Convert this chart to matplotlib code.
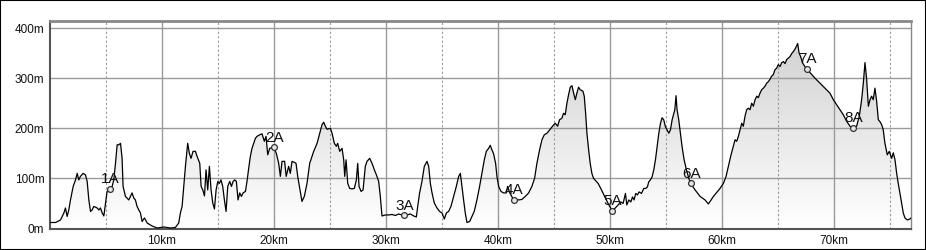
import numpy as np
import matplotlib
matplotlib.use("Agg")
import matplotlib.pyplot as plt
from matplotlib.colors import LinearSegmentedColormap
from matplotlib.patches import Rectangle

plt.rcParams['font.family'] = ['Liberation Sans', 'DejaVu Sans']

# elevation profile (km, m)
dist_km = [0.0, 0.1, 0.5, 0.94, 1.24, 1.38, 1.53, 1.68, 1.83, 2.07, 2.28, 2.43, 2.57, 2.72, 2.96, 3.17,
           3.32, 3.47, 3.62, 3.76, 3.91, 4.21, 4.36, 4.51, 4.66, 4.81, 4.96, 5.1, 5.25, 5.55, 5.7, 5.85,
           6.0, 6.15, 6.3, 6.44, 6.53, 6.74, 7.04, 7.33, 7.48, 7.63, 7.78, 7.93, 8.08, 8.23, 8.44, 8.68,
           9.12, 9.57, 10.17, 10.76, 11.2, 11.5, 11.65, 11.8, 11.95, 12.1, 12.3, 12.45, 12.6, 12.78,
           12.99, 13.14, 13.38, 13.5, 13.65, 13.8, 13.94, 14.09, 14.24, 14.39, 14.54, 14.69, 14.84,
           14.99, 15.13, 15.28, 15.43, 15.58, 15.73, 15.88, 16.06, 16.21, 16.36, 16.5, 16.65, 16.8,
           16.95, 17.1, 17.25, 17.46, 17.6, 17.75, 17.9, 18.05, 18.2, 18.35, 18.5, 18.74, 18.94, 19.15,
           19.3, 19.45, 19.63, 19.98, 20.22, 20.43, 20.58, 20.73, 20.96, 21.1, 21.32, 21.47, 21.62,
           21.83, 21.98, 22.13, 22.28, 22.51, 22.72, 22.96, 23.2, 23.56, 23.86, 24.1, 24.3, 24.45,
           24.6, 24.75, 25.05, 25.2, 25.4, 25.58, 25.7, 25.88, 26.09, 26.24, 26.33, 26.45, 26.6, 26.77,
           26.98, 27.19, 27.37, 27.49, 27.61, 27.79, 27.97, 28.17, 28.32, 28.56, 28.77, 28.98, 29.16,
           29.36, 29.51, 29.66, 29.96, 30.26, 30.55, 30.85, 31.15, 31.45, 31.66, 31.9, 32.19, 32.49,
           32.73, 32.85, 33.02, 33.23, 33.44, 33.68, 33.83, 33.98, 34.13, 34.33, 34.57, 34.81, 35.02,
           35.23, 35.41, 35.61, 35.82, 36.06, 36.3, 36.51, 36.66, 36.8, 36.95, 37.1, 37.25, 37.49,
           37.7, 37.9, 38.14, 38.38, 38.59, 38.8, 38.98, 39.19, 39.33, 39.48, 39.63, 39.81, 39.93,
           40.08, 40.29, 40.52, 40.76, 40.88, 41.06, 41.42, 41.66, 41.86, 42.16, 42.46, 42.76, 43.05,
           43.29, 43.5, 43.74, 43.95, 44.16, 44.39, 44.54, 44.75, 44.93, 45.14, 45.35, 45.52, 45.73,
           45.88, 46.03, 46.18, 46.33, 46.48, 46.63, 46.78, 46.93, 47.07, 47.22, 47.37, 47.61, 47.73,
           47.85, 47.97, 48.12, 48.26, 48.41, 48.56, 48.97, 49.27, 49.57, 49.86, 50.22, 50.46, 50.76,
           51.0, 51.2, 51.41, 51.53, 51.71, 51.89, 52.04, 52.18, 52.33, 52.48, 52.63, 52.84, 53.05,
           53.23, 53.37, 53.49, 53.64, 53.79, 53.94, 54.09, 54.24, 54.39, 54.54, 54.68, 54.83, 54.98,
           55.13, 55.28, 55.43, 55.58, 55.73, 55.82, 55.93, 56.02, 56.17, 56.32, 56.47, 56.65, 56.86,
           57.07, 57.24, 57.45, 57.63, 58.08, 58.52, 58.82, 58.97, 59.27, 59.56, 59.86, 60.16, 60.4,
           60.61, 60.81, 61.05, 61.2, 61.35, 61.5, 61.65, 61.8, 61.94, 62.09, 62.24, 62.39, 62.54,
           62.69, 62.84, 62.99, 63.14, 63.28, 63.43, 63.58, 63.73, 63.88, 64.03, 64.18, 64.33, 64.47,
           64.62, 64.77, 64.92, 65.07, 65.22, 65.37, 65.52, 65.67, 65.81, 65.96, 66.11, 66.26, 66.41,
           66.56, 66.71, 66.8, 66.92, 67.06, 67.24, 67.6, 67.9, 68.34, 68.79, 69.24, 69.68, 69.98,
           70.28, 70.58, 70.87, 71.17, 71.47, 71.72, 72.06, 72.3, 72.51, 72.66, 72.81, 72.96, 73.11,
           73.26, 73.4, 73.55, 73.7, 73.85, 74.0, 74.15, 74.3, 74.44, 74.59, 74.8, 74.98, 75.19,
           75.34, 75.49, 75.64, 75.78, 75.93, 76.08, 76.23, 76.38, 76.59, 76.83, 76.92]
elev_m = [12, 12, 12, 17, 31, 41, 24, 37, 57, 84, 97, 110, 97, 104, 110, 107,
          94, 57, 34, 37, 44, 41, 37, 41, 31, 25, 51, 74, 77, 84, 97, 130,
          167, 167, 170, 140, 84, 64, 57, 71, 61, 57, 44, 37, 31, 14, 21, 11,
          5, 1, 3, 1, 2, 11, 31, 44, 84, 124, 170, 150, 140, 154,
          154, 144, 130, 84, 77, 65, 117, 77, 124, 77, 51, 39, 77,
          94, 90, 97, 84, 57, 34, 84, 94, 84, 94, 97, 94, 57,
          71, 64, 71, 74, 94, 120, 144, 160, 170, 180, 184, 187, 189, 174,
          184, 147, 160, 162, 150, 130, 104, 134, 134, 104, 124, 110, 134,
          132, 130, 104, 84, 54, 64, 90, 130, 154, 170, 190, 207, 212,
          204, 198, 200, 190, 170, 164, 170, 154, 160, 137, 104, 137, 90, 80,
          79, 80, 97, 130, 84, 74, 77, 124, 134, 140, 130, 117, 107,
          94, 64, 25, 27, 27, 28, 26, 29, 27, 26, 27, 29, 25,
          23, 44, 71, 94, 124, 134, 124, 90, 71, 51, 41, 34, 31,
          19, 31, 34, 44, 64, 84, 104, 110, 84, 57, 31, 12, 14,
          24, 34, 57, 84, 110, 137, 154, 160, 166, 157, 149, 130, 104,
          84, 74, 71, 71, 84, 72, 57, 58, 57, 58, 64, 71, 84,
          100, 130, 157, 177, 187, 190, 194, 200, 205, 210, 204, 217, 220,
          230, 227, 250, 267, 282, 285, 270, 257, 270, 282, 277, 274, 264,
          230, 190, 157, 130, 110, 100, 90, 77, 63, 50, 35, 40, 47,
          53, 50, 70, 47, 57, 53, 63, 57, 70, 67, 73, 70, 80,
          80, 83, 93, 97, 103, 117, 137, 163, 190, 210, 221, 217, 203,
          197, 190, 197, 217, 230, 237, 265, 237, 217, 190, 163, 137, 117,
          100, 90, 83, 77, 64, 57, 49, 54, 64, 72, 80, 90, 104,
          124, 144, 164, 177, 174, 184, 197, 210, 204, 224, 237, 240, 237,
          250, 244, 257, 264, 261, 270, 277, 280, 284, 290, 293, 298, 304,
          307, 317, 320, 327, 323, 331, 333, 329, 337, 340, 343, 349, 353,
          358, 365, 369, 350, 343, 330, 318, 311, 300, 290, 280, 270, 257,
          247, 237, 227, 214, 204, 200, 204, 224, 257, 290, 331, 297, 244,
          257, 264, 257, 280, 254, 217, 213, 207, 197, 170, 147, 154, 140,
          151, 137, 110, 90, 71, 51, 31, 21, 17, 19, 21]

# waypoints
wp_names = ['1A', '2A', '3A', '4A', '5A', '6A', '7A', '8A']
wp_km = [5.34, 19.98, 31.66, 41.42, 50.22, 57.24, 67.6, 71.72]

x_max = 76.92
y_max = 414
km_ticks = [10, 20, 30, 40, 50, 60, 70]
km_labels = ['10km', '20km', '30km', '40km', '50km', '60km', '70km']
half_ticks = [5, 15, 25, 35, 45, 55, 65, 75]
m_ticks = [0, 100, 200, 300, 400]
m_labels = ['0m', '100m', '200m', '300m', '400m']

x = np.array(dist_km)
y = np.array(elev_m)

fig = plt.figure(figsize=(9.26, 2.5), dpi=100)
ax = fig.add_axes([50 / 926, 21.5 / 250, 861 / 926, 207.5 / 250])

# gradient fill under the profile
cmap = LinearSegmentedColormap.from_list('fade', ['#ffffff', '#cdcdcd'])
grad = np.linspace(0, 1, 256).reshape(-1, 1)
img = ax.imshow(grad, extent=[0, x_max, 0, y_max], origin='lower', aspect='auto',
                cmap=cmap, zorder=1)
poly = ax.fill_between(x, 0, y, facecolor='none', edgecolor='none')
img.set_clip_path(poly.get_paths()[0], transform=ax.transData)

# grid
for k in km_ticks:
    ax.axvline(k, color='#9a9a9a', lw=1, zorder=2)
for k in half_ticks:
    ax.axvline(k, color='#9a9a9a', lw=0.8, ls=(0, (2, 2)), zorder=2)
for m in m_ticks[1:]:
    ax.axhline(m, color='#9a9a9a', lw=1, zorder=2)

ax.plot(x, y, color='black', lw=0.9, zorder=3)

# waypoints
wp_y = np.interp(wp_km, x, y)
ax.plot(wp_km, wp_y, 'o', ms=4.2, mfc='#e6e6e6', mec='#333333', mew=0.9, zorder=4)
for name, wx, wy in zip(wp_names, wp_km, wp_y):
    ax.annotate(name, (wx, wy), xytext=(0.5, 2), textcoords='offset points',
                ha='center', va='bottom', fontsize=11, color='#111111', zorder=5)

ax.set_xlim(0, x_max)
ax.set_ylim(0, y_max)
ax.set_xticks(km_ticks)
ax.set_xticklabels(km_labels)
ax.set_yticks(m_ticks)
ax.set_yticklabels(m_labels)
ax.tick_params(length=0, labelsize=8.5, colors='#111111')
ax.tick_params(axis='x', pad=5)
ax.tick_params(axis='y', pad=4)

for side in ['left', 'bottom']:
    ax.spines[side].set_color('#555555')
    ax.spines[side].set_linewidth(1.5)
ax.spines['top'].set_color('#888888')
ax.spines['top'].set_linewidth(2)
ax.spines['right'].set_color('#888888')
ax.spines['right'].set_linewidth(1)

# outer frame around the whole picture
fig.patches.append(Rectangle((0, 0), 1, 1, transform=fig.transFigure, fill=False,
                             edgecolor='black', lw=1.5))

fig.savefig('out.png', dpi=100)
